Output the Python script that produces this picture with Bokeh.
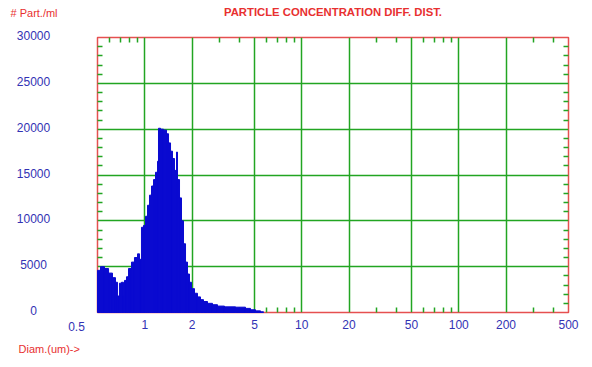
from bokeh.plotting import figure
from bokeh.models import FixedTicker, LogAxis, LinearAxis, Range1d
from bokeh.core.properties import value
from bokeh.embed import file_html
from bokeh.resources import INLINE

# ---- data ----
bin_edges = [0.500, 0.5225, 0.554, 0.588, 0.623, 0.651, 0.670, 0.690, 0.711, 0.732,
             0.743, 0.765, 0.788, 0.823, 0.860, 0.899, 0.926, 0.953, 0.982, 1.011,
             1.041, 1.072, 1.104, 1.137, 1.171, 1.206, 1.223, 1.260, 1.316, 1.376,
             1.417, 1.459, 1.502, 1.547, 1.593, 1.616, 1.665, 1.714, 1.765, 1.818,
             1.872, 1.927, 1.985, 2.074, 2.167, 2.265, 2.367, 2.510, 2.700, 2.906,
             3.220, 3.784, 4.381, 4.714, 5.074, 5.460, 5.705]
concentration = [4600, 5000, 4800, 4300, 3800, 3300, 1800, 3200, 3300, 1800,
                 3500, 3900, 4800, 5500, 6000, 6400, 5800, 9300, 9500, 10500,
                 11700, 12800, 13800, 14500, 15300, 16500, 20100, 20000, 19900, 19500,
                 18500, 17600, 16800, 15500, 17500, 14500, 12500, 10000, 7500, 5500,
                 4200, 3300, 2600, 2100, 1700, 1400, 1200, 1000, 850, 700,
                 620, 580, 450, 300, 180, 80]

x_major_ticks = [1, 2, 5, 10, 20, 50, 100, 200, 500]
x_minor_ticks = [0.6, 0.7, 0.8, 0.9, 3, 4, 6, 7, 8, 9, 30, 40, 60, 70, 80, 90, 300, 400]
x_first_label = 0.5
y_major_ticks = [0, 5000, 10000, 15000, 20000, 25000, 30000]
y_tick_labels = ["0", "5000", "10000", "15000", "20000", "25000", "30000"]
y_minor_ticks = [1000, 2000, 3000, 4000, 6000, 7000, 8000, 9000, 11000, 12000, 13000, 14000,
                 16000, 17000, 18000, 19000, 21000, 22000, 23000, 24000, 26000, 27000, 28000, 29000]
x_limits = (0.5, 500)
y_limits = (0, 30000)

title_text = "PARTICLE CONCENTRATION DIFF. DIST."
y_title = "# Part./ml"
x_title = "Diam.(um)->"

# ---- styling ----
FONT = "Liberation Sans"
RED = "#e83030"
FRAME_RED = "#e65050"
GREEN = "#22a522"
BLUE_TXT = "#3232b4"
BAR_BLUE = "#0a0ad0"

p = figure(width=592, height=367, x_axis_type="log",
           x_range=Range1d(*x_limits), y_range=Range1d(*y_limits),
           output_backend="svg", toolbar_location=None,
           min_border_left=97, min_border_right=24, min_border_top=37, min_border_bottom=55)
p.background_fill_color = "white"
p.border_fill_color = "white"
p.outline_line_color = FRAME_RED
p.outline_line_width = 1.5

# histogram bars (drawn above the inner tick marks, as in the reference)
left_edges = bin_edges[:-1]
right_edges = bin_edges[1:]
p.quad(left=left_edges, right=right_edges, top=concentration, bottom=0,
       fill_color=BAR_BLUE, line_color=BAR_BLUE, line_width=1, level="annotation")

# grids
p.xgrid.ticker = FixedTicker(ticks=x_major_ticks)
p.ygrid.ticker = FixedTicker(ticks=y_major_ticks)
for g in (p.xgrid, p.ygrid):
    g.grid_line_color = GREEN
    g.grid_line_width = 1.5

# bottom axis with value labels; left axis ticks (its labels are drawn as text below)
xa = p.xaxis[0]
xa.ticker = FixedTicker(ticks=x_major_ticks, minor_ticks=x_minor_ticks)
xa.major_label_standoff = 7
ya = p.yaxis[0]
ya.ticker = FixedTicker(ticks=[], minor_ticks=y_minor_ticks)

# top and right axes: only the inner minor ticks
top = LogAxis(ticker=FixedTicker(ticks=[], minor_ticks=x_minor_ticks))
right = LinearAxis(ticker=FixedTicker(ticks=[], minor_ticks=y_minor_ticks))
p.add_layout(top, "above")
p.add_layout(right, "right")
for ax in (xa, ya, top, right):
    ax.axis_line_color = None
    ax.major_tick_in = 0
    ax.major_tick_out = 0
    ax.minor_tick_in = 5
    ax.minor_tick_out = 0
    ax.minor_tick_line_color = GREEN
    ax.minor_tick_line_width = 1.5
    ax.major_label_text_font = FONT
    ax.major_label_text_font_size = "12px"
    ax.major_label_text_color = BLUE_TXT

# y value labels, at the tick values through the y scale
p.text(x=x_limits[0], y=y_major_ticks, text=y_tick_labels, x_offset=-64, y_offset=-2,
       text_align="center", text_baseline="middle", text_font=value(FONT),
       text_font_size="12px", text_color=BLUE_TXT, level="annotation")

# other texts, offset in pixels from the axis limits
x_mid = (x_limits[0] * x_limits[1]) ** 0.5
p.text(x=[x_mid], y=[y_limits[1]], text=[title_text], y_offset=-26,
       text_align="center", text_baseline="middle", text_font=value(FONT),
       text_font_size="11.3px", text_font_style="bold", text_color=RED, level="annotation")
p.text(x=[x_limits[0]], y=[y_limits[1]], text=[y_title], x_offset=-87, y_offset=-24.5,
       text_align="left", text_baseline="middle", text_font=value(FONT),
       text_font_size="11px", text_color=RED, level="annotation")
p.text(x=[x_limits[0]], y=[y_limits[0]], text=[x_title], x_offset=-79, y_offset=36,
       text_align="left", text_baseline="middle", text_font=value(FONT),
       text_font_size="11px", text_color=RED, level="annotation")
p.text(x=[x_first_label], y=[y_limits[0]], text=[str(x_first_label)], x_offset=-21, y_offset=14,
       text_align="center", text_baseline="middle", text_font=value(FONT),
       text_font_size="12px", text_color=BLUE_TXT, level="annotation")

open("out.html", "w").write(file_html(p, INLINE))
